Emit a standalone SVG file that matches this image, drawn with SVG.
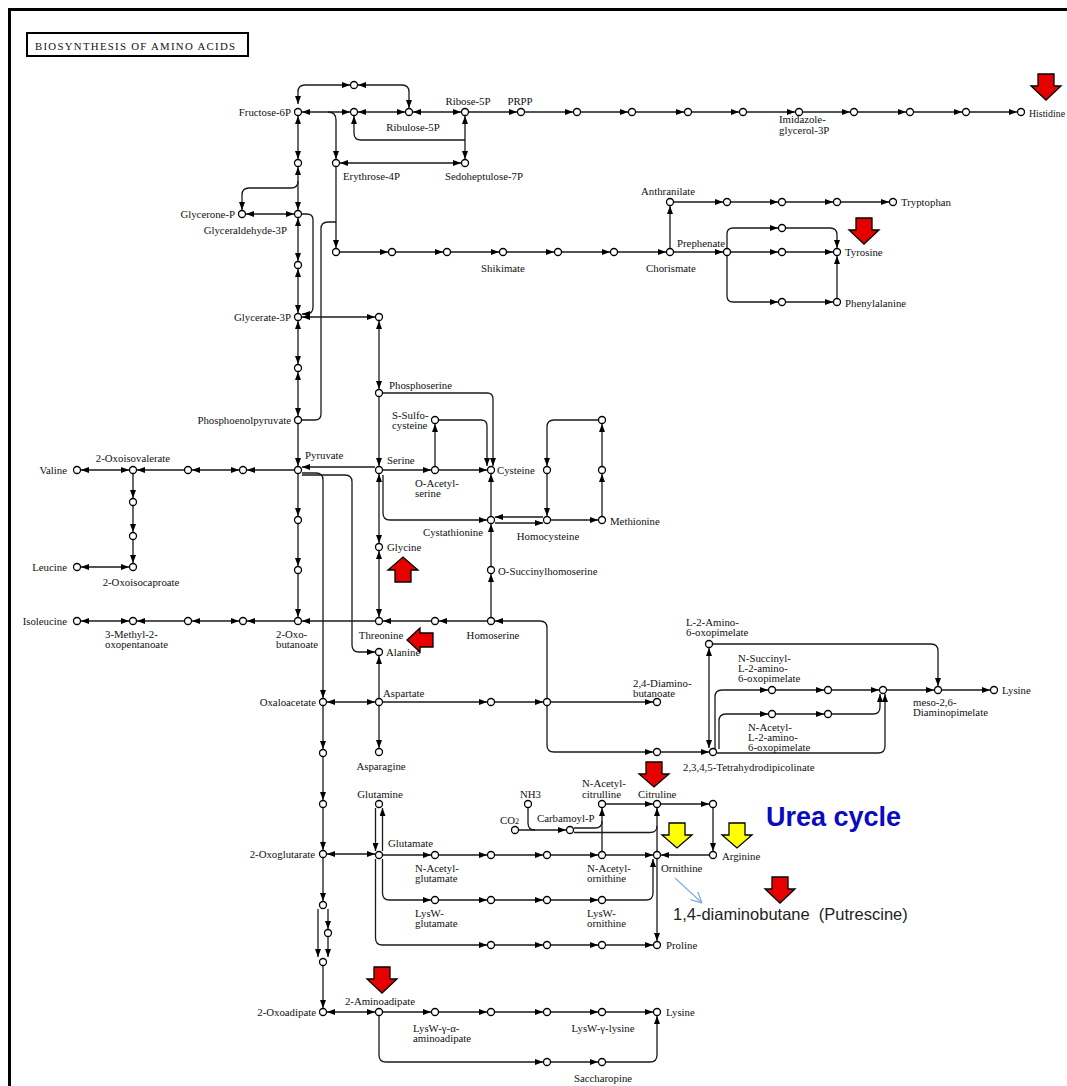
<svg xmlns="http://www.w3.org/2000/svg" width="1067" height="1086" viewBox="0 0 1067 1086">
<defs>
<marker id="ah" viewBox="0 0 8 6" refX="8" refY="3" markerWidth="8" markerHeight="6" markerUnits="userSpaceOnUse" orient="auto-start-reverse"><path d="M0,0L8,3L0,6z" fill="#000"/></marker>
<marker id="bh" viewBox="0 0 10 10" refX="10" refY="5" markerWidth="11" markerHeight="11" markerUnits="userSpaceOnUse" orient="auto"><path d="M0,0L10,5L0,10" fill="none" stroke="#7fb2e0" stroke-width="1.2"/></marker>
</defs>
<style>
.n circle{fill:#fff;stroke:#000;stroke-width:1.3}
.e path{fill:none;stroke:#1a1a1a;stroke-width:1.3}
.e .a{marker-end:url(#ah)}
.e .b{marker-start:url(#ah);marker-end:url(#ah)}
text{font-family:"Liberation Serif","Times New Roman",serif;font-size:10.8px;fill:#111}
.m{text-anchor:middle}
.r{text-anchor:end}
.red{fill:#e60000;stroke:#000;stroke-width:1.3}
.yel{fill:#ffff00;stroke:#000;stroke-width:1.3}
</style>
<rect width="1067" height="1086" fill="#fff"/>
<path d="M8,9.5H1067M9.5,8V1086" stroke="#000" stroke-width="3" fill="none"/>
<g id="title"><rect x="27" y="33" width="221" height="23" fill="#fff" stroke="#000" stroke-width="2"/><text x="35" y="50" font-size="13" textLength="200">BIOSYNTHESIS OF AMINO ACIDS</text></g>

<g id="connectors" class="e">
<path class="b" d="M298,104V92Q298,85 305,85H350"/>
<path class="b" d="M302,112H350"/>
<path class="b" d="M358,85H402Q409,85 409,92V108"/>
<path class="b" d="M358,112H405"/>
<path class="b" d="M413,112H461"/>
<path class="a" d="M469,112H517"/>
<path class="a" d="M525,112H573"/>
<path class="a" d="M581,112H628"/>
<path class="a" d="M636,112H684"/>
<path class="a" d="M692,112H739"/>
<path class="a" d="M747,112H795"/>
<path class="a" d="M803,112H850"/>
<path class="a" d="M858,112H906"/>
<path class="a" d="M914,112H962"/>
<path class="a" d="M970,112H1017"/>
<path class="b" d="M465,116V159"/>
<path class="a" d="M465,140H361Q354,140 354,133V116"/>
<path class="b" d="M340,163H461"/>
<path class="a" d="M328,112Q336,112 336,120V159"/>
<path class="a" d="M336,167V248"/>
<path d="M302,420H315Q321,420 321,414V229Q321,222 328,222H336"/>
<path class="a" d="M302,214H307Q313,214 313,220V307Q313,314 306,314H302"/>
<path class="b" d="M298,116V159"/>
<path class="b" d="M298,167V210"/>
<path class="b" d="M298,218V261"/>
<path class="b" d="M298,269V313"/>
<path class="b" d="M298,321V364"/>
<path class="b" d="M298,372V416"/>
<path class="a" d="M298,424V466"/>
<path class="a" d="M298,181Q298,188 291,188H249Q242,188 242,195V210"/>
<path class="b" d="M246,214H294"/>
<path class="b" d="M302,317H375"/>
<path class="a" d="M340,252H388"/>
<path class="a" d="M396,252H443"/>
<path class="a" d="M451,252H499"/>
<path class="a" d="M507,252H554"/>
<path class="a" d="M562,252H610"/>
<path class="a" d="M618,252H666"/>
<path class="a" d="M674,252H723"/>
<path class="a" d="M731,252H778"/>
<path class="a" d="M786,252H833"/>
<path class="a" d="M670,248V206"/>
<path class="a" d="M674,202H723"/>
<path class="a" d="M731,202H778"/>
<path class="a" d="M786,202H833"/>
<path class="a" d="M841,202H889"/>
<path class="a" d="M727,248V234Q727,228 733,228H778"/>
<path class="a" d="M786,228H830Q837,228 837,235V248"/>
<path class="a" d="M727,256V296Q727,302 733,302H778"/>
<path class="a" d="M786,302H833"/>
<path class="a" d="M837,298V256"/>
<path class="a" d="M294,470H247"/>
<path class="b" d="M239,470H192"/>
<path class="a" d="M184,470H137"/>
<path class="b" d="M129,470H81"/>
<path class="a" d="M133,474V498"/>
<path class="a" d="M133,506V532"/>
<path class="a" d="M133,540V563"/>
<path class="b" d="M129,567H81"/>
<path class="a" d="M298,474V516"/>
<path class="a" d="M298,524V566"/>
<path class="a" d="M298,574V617"/>
<path class="a" d="M294,621H247"/>
<path class="b" d="M239,621H192"/>
<path class="a" d="M184,621H137"/>
<path class="b" d="M129,621H81"/>
<path class="a" d="M375,621H302"/>
<path class="a" d="M375,467H302"/>
<path class="a" d="M302,473H316Q323,473 323,480V698"/>
<path class="a" d="M302,475H345Q352,475 352,482V645Q352,652 359,652H375"/>
<path class="b" d="M379,321V389"/>
<path class="a" d="M379,397V466"/>
<path class="b" d="M379,474V543"/>
<path class="b" d="M379,551V617"/>
<path class="a" d="M379,698V656"/>
<path class="a" d="M379,706V748"/>
<path class="b" d="M327,702H375"/>
<path class="a" d="M383,470H431"/>
<path class="a" d="M435,466V424"/>
<path class="a" d="M439,470H487"/>
<path class="a" d="M383,393H487Q493,393 493,399V466"/>
<path class="a" d="M439,420H481Q487,420 487,426V466"/>
<path class="a" d="M383,475V513Q383,520 390,520H487"/>
<path class="a" d="M491,516V474"/>
<path class="a" d="M491,566V524"/>
<path class="a" d="M543,517H495"/>
<path class="a" d="M495,523H543"/>
<path class="a" d="M551,520H598"/>
<path class="a" d="M602,516V474"/>
<path class="a" d="M602,466V424"/>
<path class="a" d="M598,420H554Q547,420 547,427V466"/>
<path class="a" d="M547,474V516"/>
<path class="a" d="M491,617V574"/>
<path class="a" d="M487,621H439"/>
<path class="a" d="M431,621H383"/>
<path class="a" d="M547,698V628Q547,621 540,621H495"/>
<path class="a" d="M383,702H487"/>
<path class="a" d="M495,702H543"/>
<path class="a" d="M551,702H653"/>
<path class="a" d="M547,706V745Q547,752 554,752H653"/>
<path class="a" d="M661,752H709"/>
<path class="b" d="M709,648V748"/>
<path class="a" d="M715,749V697Q715,690 722,690H768"/>
<path class="a" d="M719,749V721Q719,714 726,714H768"/>
<path class="a" d="M717,753H878Q885,753 885,746V694"/>
<path class="a" d="M776,714H824"/>
<path class="a" d="M832,714H873Q880,714 880,707V694"/>
<path class="a" d="M776,690H824"/>
<path class="a" d="M832,690H879"/>
<path class="a" d="M887,690H934"/>
<path class="a" d="M942,690H990"/>
<path class="a" d="M713,644H931Q938,644 938,651V686"/>
<path class="a" d="M323,706V749"/>
<path class="a" d="M323,757V800"/>
<path class="a" d="M323,808V850"/>
<path class="b" d="M327,854H375"/>
<path class="a" d="M323,858V901"/>
<path class="a" d="M318,909V957"/>
<path class="a" d="M328,909V929"/>
<path class="a" d="M328,937V957"/>
<path class="a" d="M323,966V1008"/>
<path class="b" d="M327,1012H375"/>
<path class="a" d="M375.5,808V851"/>
<path class="a" d="M382.5,851V808"/>
<path class="a" d="M383,855H431"/>
<path class="a" d="M439,855H487"/>
<path class="a" d="M495,855H543"/>
<path class="a" d="M551,855H598"/>
<path class="a" d="M606,855H653"/>
<path class="a" d="M602,851V808"/>
<path class="a" d="M606,804H653"/>
<path class="a" d="M661,804H709"/>
<path class="a" d="M713,808V851"/>
<path class="a" d="M709,855H661"/>
<path class="a" d="M657,851V808"/>
<path d="M528,808V823Q528,830 535,830"/>
<path class="a" d="M519,830H566"/>
<path d="M574,828H595Q602,828 602,821"/>
<path d="M574,832.5H650Q657,832.5 657,826"/>
<path class="a" d="M382.5,859V893Q382.5,900 389.5,900H431"/>
<path class="a" d="M439,900H487"/>
<path class="a" d="M495,900H543"/>
<path class="a" d="M551,900H598"/>
<path class="a" d="M606,900H646Q653,900 653,893V859"/>
<path class="a" d="M657,859V941"/>
<path class="a" d="M375.5,859V938Q375.5,945 382.5,945H487"/>
<path class="a" d="M495,945H543"/>
<path class="a" d="M551,945H598"/>
<path class="a" d="M606,945H653"/>
<path class="a" d="M383,1012H431"/>
<path class="a" d="M439,1012H487"/>
<path class="a" d="M495,1012H543"/>
<path class="a" d="M551,1012H598"/>
<path class="a" d="M606,1012H653"/>
<path class="a" d="M379,1016V1055Q379,1062 386,1062H543"/>
<path class="a" d="M551,1062H598"/>
<path class="a" d="M606,1062H650Q657,1062 657,1055V1016"/>
<path d="M675,878L702,903" style="stroke:#7fb2e0;stroke-width:1.2;marker-end:url(#bh)"/>
</g>

<g id="nodes" class="n">
<g id="F6P"><circle cx="298" cy="112" r="3.5"/><text x="291" y="116" class="r">Fructose-6P</text></g>
<g id="ntop"><circle cx="354" cy="85" r="3.5"/></g>
<g id="nf1"><circle cx="354" cy="112" r="3.5"/></g>
<g id="Ru5P"><circle cx="409" cy="112" r="3.5"/><text x="413" y="131" class="m">Ribulose-5P</text></g>
<g id="R5P"><circle cx="465" cy="112" r="3.5"/><text x="468" y="105" class="m">Ribose-5P</text></g>
<g id="PRPP"><circle cx="521" cy="112" r="3.5"/><text x="520" y="105" class="m">PRPP</text></g>
<g id="h1"><circle cx="577" cy="112" r="3.5"/></g>
<g id="h2"><circle cx="632" cy="112" r="3.5"/></g>
<g id="h3"><circle cx="688" cy="112" r="3.5"/></g>
<g id="h4"><circle cx="743" cy="112" r="3.5"/></g>
<g id="IGP"><circle cx="799" cy="112" r="3.5"/><text x="779" y="123">Imidazole-</text><text x="779" y="134">glycerol-3P</text></g>
<g id="h5"><circle cx="854" cy="112" r="3.5"/></g>
<g id="h6"><circle cx="910" cy="112" r="3.5"/></g>
<g id="h7"><circle cx="966" cy="112" r="3.5"/></g>
<g id="His"><circle cx="1021" cy="112" r="3.5"/><text x="1029" y="117" textLength="36" lengthAdjust="spacingAndGlyphs">Histidine</text></g>
<g id="E4P"><circle cx="336" cy="163" r="3.5"/><text x="343" y="180">Erythrose-4P</text></g>
<g id="S7P"><circle cx="465" cy="163" r="3.5"/><text x="484" y="180" class="m">Sedoheptulose-7P</text></g>
<g id="c1"><circle cx="298" cy="163" r="3.5"/></g>
<g id="GA3P"><circle cx="298" cy="214" r="3.5"/><text x="287" y="234" class="r">Glyceraldehyde-3P</text></g>
<g id="GP"><circle cx="242" cy="214" r="3.5"/><text x="235" y="218" class="r">Glycerone-P</text></g>
<g id="c2"><circle cx="298" cy="265" r="3.5"/></g>
<g id="G3P"><circle cx="298" cy="317" r="3.5"/><text x="291" y="321" class="r">Glycerate-3P</text></g>
<g id="c3"><circle cx="298" cy="368" r="3.5"/></g>
<g id="PEP"><circle cx="298" cy="420" r="3.5"/><text x="291" y="424" class="r">Phosphoenolpyruvate</text></g>
<g id="Pyr"><circle cx="298" cy="470" r="3.5"/><text x="305" y="459">Pyruvate</text></g>
<g id="c4"><circle cx="298" cy="520" r="3.5"/></g>
<g id="c5"><circle cx="298" cy="570" r="3.5"/></g>
<g id="OB"><circle cx="298" cy="621" r="3.5"/><text x="276" y="638">2-Oxo-</text><text x="276" y="648">butanoate</text></g>
<g id="s0"><circle cx="336" cy="252" r="3.5"/></g>
<g id="s1"><circle cx="392" cy="252" r="3.5"/></g>
<g id="s2"><circle cx="447" cy="252" r="3.5"/></g>
<g id="Shik"><circle cx="503" cy="252" r="3.5"/><text x="503" y="272" class="m">Shikimate</text></g>
<g id="s3"><circle cx="558" cy="252" r="3.5"/></g>
<g id="s4"><circle cx="614" cy="252" r="3.5"/></g>
<g id="Chor"><circle cx="670" cy="252" r="3.5"/><text x="671" y="272" class="m">Chorismate</text></g>
<g id="Preph"><circle cx="727" cy="252" r="3.5"/><text x="677" y="247">Prephenate</text></g>
<g id="ty1"><circle cx="782" cy="252" r="3.5"/></g>
<g id="Tyr"><circle cx="837" cy="252" r="3.5"/><text x="845" y="256">Tyrosine</text></g>
<g id="ty2"><circle cx="782" cy="228" r="3.5"/></g>
<g id="phe1"><circle cx="782" cy="302" r="3.5"/></g>
<g id="Phe"><circle cx="837" cy="302" r="3.5"/><text x="845" y="307">Phenylalanine</text></g>
<g id="Anth"><circle cx="670" cy="202" r="3.5"/><text x="668" y="195" class="m">Anthranilate</text></g>
<g id="t1"><circle cx="727" cy="202" r="3.5"/></g>
<g id="t2"><circle cx="782" cy="202" r="3.5"/></g>
<g id="t3"><circle cx="837" cy="202" r="3.5"/></g>
<g id="Trp"><circle cx="893" cy="202" r="3.5"/><text x="901" y="206">Tryptophan</text></g>
<g id="Val"><circle cx="77" cy="470" r="3.5"/><text x="67" y="474" class="r">Valine</text></g>
<g id="OIV"><circle cx="133" cy="470" r="3.5"/><text x="133" y="462" class="m">2-Oxoisovalerate</text></g>
<g id="v1"><circle cx="188" cy="470" r="3.5"/></g>
<g id="v2"><circle cx="243" cy="470" r="3.5"/></g>
<g id="l1"><circle cx="133" cy="502" r="3.5"/></g>
<g id="l2"><circle cx="133" cy="536" r="3.5"/></g>
<g id="OIC"><circle cx="133" cy="567" r="3.5"/><text x="141" y="586" class="m">2-Oxoisocaproate</text></g>
<g id="Leu"><circle cx="77" cy="567" r="3.5"/><text x="67" y="571" class="r">Leucine</text></g>
<g id="Ile"><circle cx="77" cy="621" r="3.5"/><text x="67" y="625" class="r">Isoleucine</text></g>
<g id="MOP"><circle cx="133" cy="621" r="3.5"/><text x="105" y="638">3-Methyl-2-</text><text x="105" y="648">oxopentanoate</text></g>
<g id="i1"><circle cx="188" cy="621" r="3.5"/></g>
<g id="i2"><circle cx="243" cy="621" r="3.5"/></g>
<g id="ser0"><circle cx="379" cy="317" r="3.5"/></g>
<g id="PSer"><circle cx="379" cy="393" r="3.5"/><text x="389" y="389">Phosphoserine</text></g>
<g id="Ser"><circle cx="379" cy="470" r="3.5"/><text x="387" y="464">Serine</text></g>
<g id="Gly"><circle cx="379" cy="547" r="3.5"/><text x="387" y="551">Glycine</text></g>
<g id="Thr"><circle cx="379" cy="621" r="3.5"/><text x="381" y="639" class="m">Threonine</text></g>
<g id="Ala"><circle cx="379" cy="652" r="3.5"/><text x="386" y="656">Alanine</text></g>
<g id="Asp"><circle cx="379" cy="702" r="3.5"/><text x="383" y="697">Aspartate</text></g>
<g id="Asn"><circle cx="379" cy="752" r="3.5"/><text x="381" y="770" class="m">Asparagine</text></g>
<g id="OAS"><circle cx="435" cy="470" r="3.5"/><text x="415" y="487">O-Acetyl-</text><text x="415" y="497">serine</text></g>
<g id="SSC"><circle cx="435" cy="420" r="3.5"/><text x="392" y="419">S-Sulfo-</text><text x="392" y="429">cysteine</text></g>
<g id="Cys"><circle cx="491" cy="470" r="3.5"/><text x="497" y="474">Cysteine</text></g>
<g id="Cysta"><circle cx="491" cy="520" r="3.5"/><text x="483" y="536" class="r">Cystathionine</text></g>
<g id="Hcy"><circle cx="547" cy="520" r="3.5"/><text x="548" y="540" class="m">Homocysteine</text></g>
<g id="Met"><circle cx="602" cy="520" r="3.5"/><text x="610" y="525">Methionine</text></g>
<g id="m1"><circle cx="602" cy="470" r="3.5"/></g>
<g id="m2"><circle cx="602" cy="420" r="3.5"/></g>
<g id="m3"><circle cx="547" cy="470" r="3.5"/></g>
<g id="OSH"><circle cx="491" cy="570" r="3.5"/><text x="498" y="575">O-Succinylhomoserine</text></g>
<g id="Hser"><circle cx="491" cy="621" r="3.5"/><text x="493" y="639" class="m">Homoserine</text></g>
<g id="th1"><circle cx="435" cy="621" r="3.5"/></g>
<g id="OAA"><circle cx="323" cy="702" r="3.5"/><text x="316" y="706" class="r">Oxaloacetate</text></g>
<g id="o1"><circle cx="323" cy="753" r="3.5"/></g>
<g id="o2"><circle cx="323" cy="804" r="3.5"/></g>
<g id="OG"><circle cx="323" cy="854" r="3.5"/><text x="315" y="858" class="r">2-Oxoglutarate</text></g>
<g id="o3"><circle cx="323" cy="905" r="3.5"/></g>
<g id="o4"><circle cx="328" cy="933" r="3.5"/></g>
<g id="o5"><circle cx="323" cy="962" r="3.5"/></g>
<g id="OA"><circle cx="323" cy="1012" r="3.5"/><text x="316" y="1016" class="r">2-Oxoadipate</text></g>
<g id="a1"><circle cx="491" cy="702" r="3.5"/></g>
<g id="a2"><circle cx="547" cy="702" r="3.5"/></g>
<g id="DAB"><circle cx="657" cy="702" r="3.5"/><text x="633" y="687">2,4-Diamino-</text><text x="633" y="697">butanoate</text></g>
<g id="a3"><circle cx="657" cy="752" r="3.5"/></g>
<g id="THDP"><circle cx="713" cy="752" r="3.5"/><text x="683" y="771">2,3,4,5-Tetrahydrodipicolinate</text></g>
<g id="LAOP"><circle cx="709" cy="644" r="3.5"/><text x="686" y="626">L-2-Amino-</text><text x="686" y="636">6-oxopimelate</text></g>
<g id="NSuc"><circle cx="772" cy="690" r="3.5"/><text x="738" y="662">N-Succinyl-</text><text x="738" y="672">L-2-amino-</text><text x="738" y="682">6-oxopimelate</text></g>
<g id="k1"><circle cx="828" cy="690" r="3.5"/></g>
<g id="k2"><circle cx="883" cy="690" r="3.5"/></g>
<g id="DAP"><circle cx="938" cy="690" r="3.5"/><text x="913" y="706">meso-2,6-</text><text x="913" y="716">Diaminopimelate</text></g>
<g id="Lys1"><circle cx="994" cy="690" r="3.5"/><text x="1002" y="694">Lysine</text></g>
<g id="NAc"><circle cx="772" cy="714" r="3.5"/><text x="748" y="731">N-Acetyl-</text><text x="748" y="741">L-2-amino-</text><text x="748" y="751">6-oxopimelate</text></g>
<g id="k3"><circle cx="828" cy="714" r="3.5"/></g>
<g id="Gln"><circle cx="379" cy="804" r="3.5"/><text x="380" y="798" class="m">Glutamine</text></g>
<g id="Glu"><circle cx="379" cy="855" r="3.5"/><text x="388" y="847">Glutamate</text></g>
<g id="NAG"><circle cx="435" cy="855" r="3.5"/><text x="415" y="872">N-Acetyl-</text><text x="415" y="882">glutamate</text></g>
<g id="g1"><circle cx="491" cy="855" r="3.5"/></g>
<g id="g2"><circle cx="547" cy="855" r="3.5"/></g>
<g id="NAO"><circle cx="602" cy="855" r="3.5"/><text x="587" y="872">N-Acetyl-</text><text x="587" y="882">ornithine</text></g>
<g id="Orn"><circle cx="657" cy="855" r="3.5"/><text x="661" y="872">Ornithine</text></g>
<g id="NAC"><circle cx="602" cy="804" r="3.5"/><text x="582" y="787">N-Acetyl-</text><text x="582" y="798">citrulline</text></g>
<g id="Cit"><circle cx="657" cy="804" r="3.5"/><text x="638" y="798">Citruline</text></g>
<g id="u1"><circle cx="713" cy="804" r="3.5"/></g>
<g id="Arg"><circle cx="713" cy="855" r="3.5"/><text x="722" y="860">Arginine</text></g>
<g id="NH3"><circle cx="528" cy="804" r="3.5"/><text x="520" y="798">NH3</text></g>
<g id="CO2"><circle cx="515" cy="830" r="3.5"/><text x="500" y="824">CO<tspan font-size="8">2</tspan></text></g>
<g id="CP"><circle cx="570" cy="830" r="3.5"/><text x="537" y="822">Carbamoyl-P</text></g>
<g id="LWG"><circle cx="435" cy="900" r="3.5"/><text x="415" y="917">LysW-</text><text x="415" y="927">glutamate</text></g>
<g id="w1"><circle cx="491" cy="900" r="3.5"/></g>
<g id="w2"><circle cx="547" cy="900" r="3.5"/></g>
<g id="LWO"><circle cx="602" cy="900" r="3.5"/><text x="587" y="917">LysW-</text><text x="587" y="927">ornithine</text></g>
<g id="p1"><circle cx="491" cy="945" r="3.5"/></g>
<g id="p2"><circle cx="547" cy="945" r="3.5"/></g>
<g id="p3"><circle cx="602" cy="945" r="3.5"/></g>
<g id="Pro"><circle cx="657" cy="945" r="3.5"/><text x="666" y="949">Proline</text></g>
<g id="AAA"><circle cx="379" cy="1012" r="3.5"/><text x="380" y="1005" class="m">2-Aminoadipate</text></g>
<g id="LWA"><circle cx="435" cy="1012" r="3.5"/><text x="413" y="1032">LysW-γ-α-</text><text x="413" y="1042">aminoadipate</text></g>
<g id="y1"><circle cx="491" cy="1012" r="3.5"/></g>
<g id="y2"><circle cx="547" cy="1012" r="3.5"/></g>
<g id="LWL"><circle cx="602" cy="1012" r="3.5"/><text x="603" y="1032" class="m">LysW-γ-lysine</text></g>
<g id="Lys2"><circle cx="657" cy="1012" r="3.5"/><text x="666" y="1016">Lysine</text></g>
<g id="sa1"><circle cx="547" cy="1062" r="3.5"/></g>
<g id="Sacch"><circle cx="602" cy="1062" r="3.5"/><text x="603" y="1082" class="m">Saccharopine</text></g>
</g>

<g id="highlights">
<polygon class="red" points="1038,74 1054,74 1054,86 1061,86 1046,100 1031,86 1038,86"/>
<polygon class="red" points="856,218 872,218 872,230 879,230 864,244 849,230 856,230"/>
<polygon class="red" points="395,582 411,582 411,570 418,570 403,557 388,570 395,570"/>
<polygon class="red" points="433,633 433,647 420,647 420,652 407,640 420,628 420,633"/>
<polygon class="red" points="646,762 662,762 662,774 669,774 654,787 639,774 646,774"/>
<polygon class="yel" points="669,823 685,823 685,835 692,835 677,848 662,835 669,835"/>
<polygon class="yel" points="729,823 745,823 745,835 752,835 737,848 722,835 729,835"/>
<polygon class="red" points="772,877 788,877 788,889 795,889 780,903 765,889 772,889"/>
<polygon class="red" points="374,967 390,967 390,979 397,979 382,993 367,979 374,979"/>
</g>
<text x="766" y="826" style="font-family:'Liberation Sans',Arial,sans-serif;font-weight:bold;font-size:27px;fill:#0a0ac0">Urea cycle</text>
<text x="673" y="920" style="font-family:'Liberation Sans',Arial,sans-serif;font-size:16.5px;fill:#222" xml:space="preserve">1,4-diaminobutane  (Putrescine)</text>
</svg>
